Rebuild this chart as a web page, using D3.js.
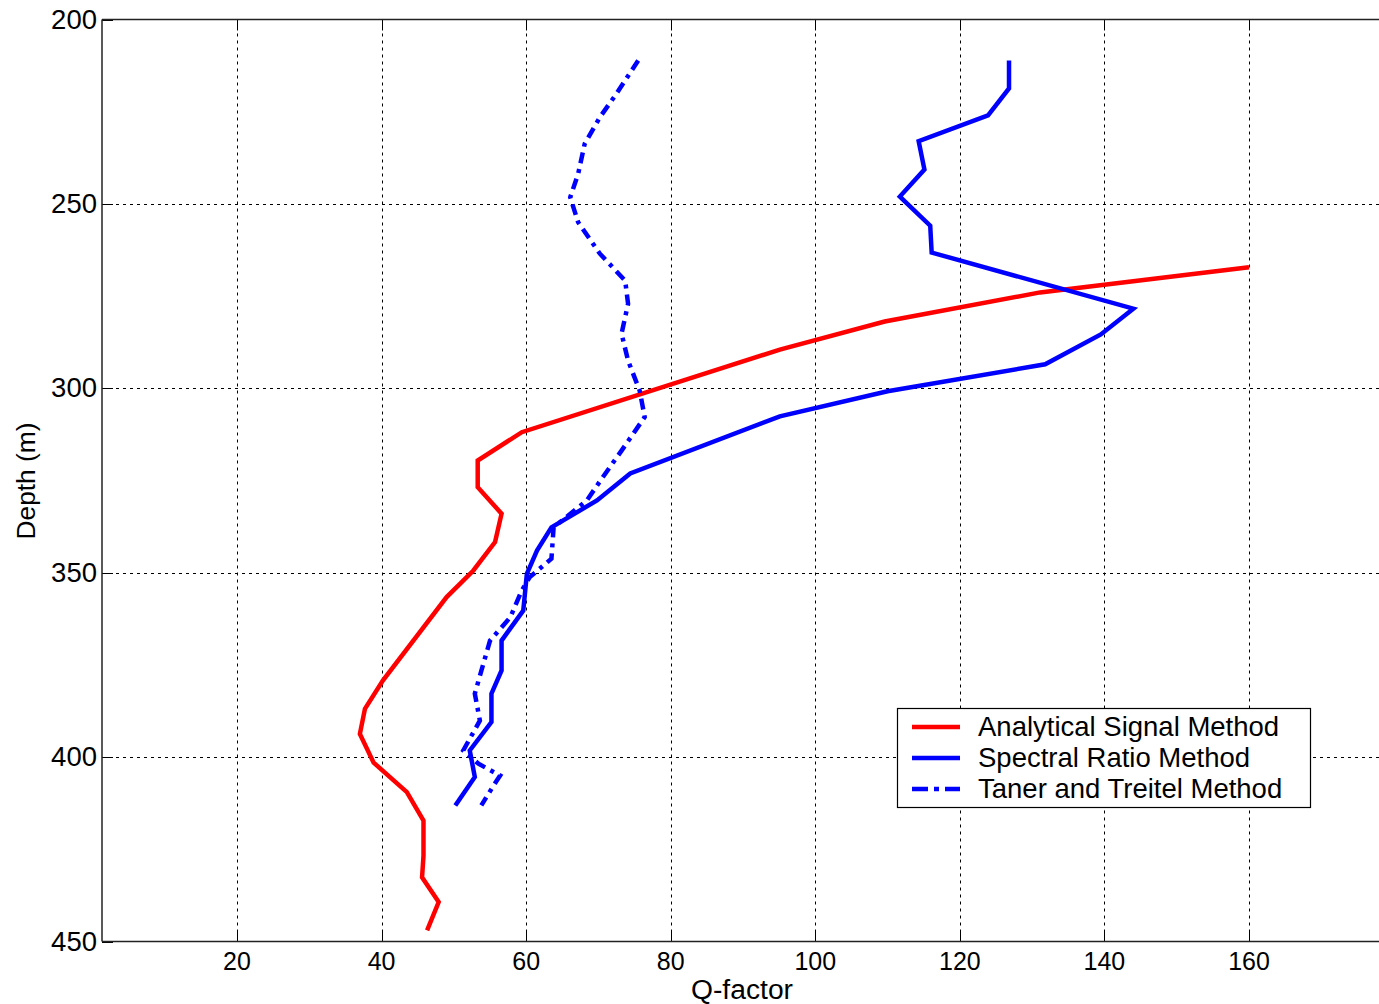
<!DOCTYPE html>
<html><head><meta charset="utf-8">
<script src="https://cdn.jsdelivr.net/npm/d3@7"></script>
<style>
html,body{margin:0;padding:0;background:#fff;overflow:hidden}
text{font-family:"Liberation Sans",Arial,sans-serif;fill:#000}
</style></head>
<body>
<svg id="chart" width="1379" height="1004"></svg>
<script>
// ---- data ----
const xTicks = [20, 40, 60, 80, 100, 120, 140, 160];
const yTicks = [200, 250, 300, 350, 400, 450];
const seriesNames = ["Analytical Signal Method", "Spectral Ratio Method", "Taner and Treitel Method"];

const analyticalQ = [160, 131.1, 109.6, 95.1, 59.4, 53.3, 53.3, 56.6, 55.7, 52.7, 49.0, 40.2, 37.7, 37.0, 38.9, 43.5, 45.8, 45.8, 45.6, 47.9, 46.3];
const analyticalDepth = [267.2, 274.0, 281.9, 289.5, 311.9, 319.6, 326.8, 334.0, 341.7, 349.4, 356.6, 379.2, 386.9, 393.7, 401.5, 409.5, 417.2, 426.7, 432.6, 439.3, 447.0];

const spectralQ = [126.8, 126.8, 123.9, 114.3, 115.1, 111.7, 115.9, 116.1, 144.0, 139.5, 131.8, 110.0, 95.1, 74.4, 69.8, 63.5, 61.5, 60.1, 59.6, 56.6, 56.6, 55.2, 55.2, 52.2, 52.9, 50.2];
const spectralDepth = [211.1, 218.7, 226.0, 233.0, 240.7, 248.0, 255.9, 263.2, 278.4, 285.4, 293.5, 300.8, 307.6, 323.1, 330.4, 337.7, 344.0, 350.3, 360.3, 368.4, 376.5, 382.8, 390.5, 398.2, 405.4, 413.1];

const tanerQ = [75.5, 72.5, 70.2, 68.1, 67.2, 66.1, 67.2, 70.2, 73.7, 74.1, 73.2, 74.1, 75.7, 76.4, 73.2, 70.6, 68.4, 63.8, 63.5, 60.5, 59.4, 57.8, 55.0, 52.9, 53.6, 51.3, 53.4, 56.4, 55.5, 53.8];
const tanerDepth = [211.1, 220.1, 226.5, 233.7, 241.8, 248.2, 255.0, 263.5, 270.8, 277.1, 285.2, 292.5, 300.6, 307.8, 316.9, 324.1, 330.4, 337.7, 346.2, 351.2, 354.8, 362.1, 368.4, 382.8, 390.1, 398.2, 401.8, 405.0, 407.7, 413.1];

// ---- layout ----
const svg = d3.select("#chart");
const L = 102, T = 19.5, B = 941.5, R = 1379;
const x = d3.scaleLinear().domain([20, 160]).range([237, 1249]);
const y = d3.scaleLinear().domain([200, 450]).range([T, B]);

const series = [
  {name: seriesNames[0], q: analyticalQ, d: analyticalDepth, color: "#ff0000", dash: null},
  {name: seriesNames[1], q: spectralQ, d: spectralDepth, color: "#0000ff", dash: null},
  {name: seriesNames[2], q: tanerQ, d: tanerDepth, color: "#0000ff", dash: "11,6,4,6"}
];

svg.append("defs").append("clipPath").attr("id","clip")
  .append("rect").attr("x", L).attr("y", T).attr("width", R - L).attr("height", B - T);

// grid
const grid = svg.append("g");
xTicks.forEach(t => {
  grid.append("line").attr("x1", Math.round(x(t))+0.5).attr("x2", Math.round(x(t))+0.5)
    .attr("y1", T).attr("y2", B).attr("stroke", "#000").attr("stroke-width", 1)
    .attr("stroke-dasharray", "3,4");
});
yTicks.slice(1, -1).forEach(t => {
  grid.append("line").attr("x1", L).attr("x2", R)
    .attr("y1", Math.round(y(t))+0.5).attr("y2", Math.round(y(t))+0.5)
    .attr("stroke", "#000").attr("stroke-width", 1).attr("stroke-dasharray", "3,4");
});

// inner ticks
xTicks.forEach(t => {
  const px = Math.round(x(t))+0.5;
  svg.append("line").attr("x1", px).attr("x2", px).attr("y1", B).attr("y2", B - 11).attr("stroke", "#000");
  svg.append("line").attr("x1", px).attr("x2", px).attr("y1", T).attr("y2", T + 11).attr("stroke", "#000");
});
yTicks.forEach(t => {
  const py = Math.round(y(t))+0.5;
  svg.append("line").attr("x1", L).attr("x2", L + 11).attr("y1", py).attr("y2", py).attr("stroke", "#000");
});

// frame
svg.append("line").attr("x1", L).attr("x2", L).attr("y1", T).attr("y2", B).attr("stroke", "#222").attr("stroke-width", 1.5);
svg.append("line").attr("x1", L).attr("x2", R).attr("y1", T).attr("y2", T).attr("stroke", "#222").attr("stroke-width", 1.5);
svg.append("line").attr("x1", L).attr("x2", R).attr("y1", B).attr("y2", B).attr("stroke", "#222").attr("stroke-width", 1.5);

// tick labels
const xl = svg.append("g");
xTicks.forEach(t => {
  xl.append("text").attr("x", x(t)).attr("y", 970).attr("text-anchor", "middle")
    .attr("font-size", 25).text(t);
});
const yl = svg.append("g");
yTicks.forEach(t => {
  yl.append("text").attr("x", 97).attr("y", y(t) + 9).attr("text-anchor", "end")
    .attr("font-size", 27.5).text(t);
});

// axis titles
svg.append("text").attr("x", 742).attr("y", 999).attr("text-anchor", "middle").attr("font-size", 27)
  .attr("textLength", 102).attr("lengthAdjust", "spacingAndGlyphs").text("Q-factor");
svg.append("text").attr("transform", "translate(35,481) rotate(-90)").attr("text-anchor", "middle")
  .attr("font-size", 25).attr("textLength", 117).attr("lengthAdjust", "spacingAndGlyphs").text("Depth (m)");

// lines
const line = d3.line().x(p => x(p[0])).y(p => y(p[1]));
const plot = svg.append("g").attr("clip-path", "url(#clip)");
series.forEach(s => {
  const pts = s.q.map((q, i) => [q, s.d[i]]);
  plot.append("path").attr("d", line(pts)).attr("fill", "none")
    .attr("stroke", s.color).attr("stroke-width", 4.5).attr("stroke-linejoin", "miter")
    .attr("stroke-dasharray", s.dash);
});

// legend
const lg = svg.append("g");
lg.append("rect").attr("x", 897.5).attr("y", 708.5).attr("width", 413).attr("height", 99)
  .attr("fill", "#fff").attr("stroke", "#000").attr("stroke-width", 1.2);
const legendLens = [304, 280, 313];
series.forEach((s, i) => {
  const cy = 727 + i * 31;
  lg.append("line").attr("x1", 912).attr("x2", 960).attr("y1", cy).attr("y2", cy)
    .attr("stroke", s.color).attr("stroke-width", 4.5).attr("stroke-dasharray", s.dash ? "16,6,5,6" : null);
  lg.append("text").attr("x", 978).attr("y", cy + 9).attr("font-size", 27.5).text(s.name);
});
</script>
</body></html>
